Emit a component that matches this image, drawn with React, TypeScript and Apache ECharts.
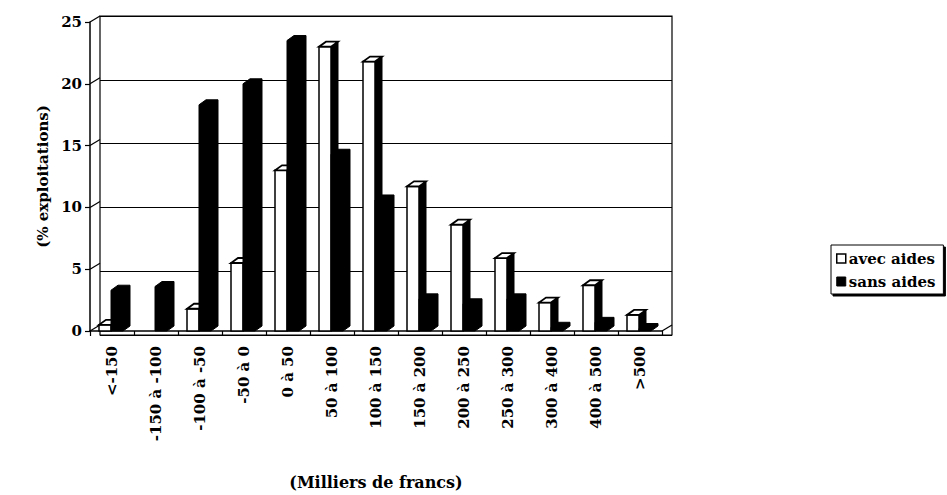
import React, { useEffect, useRef } from "react";
import * as echarts from "echarts";

const categories = [
  "<-150", "-150 à -100", "-100 à -50", "-50 à 0", "0 à 50", "50 à 100",
  "100 à 150", "150 à 200", "200 à 250", "250 à 300", "300 à 400", "400 à 500", ">500",
];
const avecAides = [0.5, 0, 1.8, 5.5, 13, 23, 21.8, 11.7, 8.6, 5.9, 2.3, 3.7, 1.3];
const sansAides = [3.3, 3.6, 18.3, 20, 23.5, 14.3, 10.6, 2.6, 2.2, 2.6, 0.3, 0.7, 0.2];
const yTicks = [0, 5, 10, 15, 20, 25];
const seriesNames = ["avec aides", "sans aides"];

const FONT = "'DejaVu Serif', 'Liberation Serif', serif";
const BAR_W = 12;
const DX = 7;
const DY = -5;
const WALL_DX = 10;
const WALL_DY = -6;

function barRenderer(k: number) {
  return (params: any, api: any) => {
    const i = api.value(0);
    const v = api.value(1);
    if (!(v > 0)) return { type: "group", children: [] };
    const base = api.coord([i, 0]);
    const top = api.coord([i, v]);
    const band = api.size([1, 0])[0];
    const left = base[0] - band / 2;
    const x0 = left + 9 + k * BAR_W;
    const x1 = x0 + BAR_W;
    const yb = base[1];
    const yt = top[1];
    if (k === 1) {
      return {
        type: "polygon",
        shape: {
          points: [
            [x0, yb], [x0, yt], [x0 + DX, yt + DY], [x1 + DX, yt + DY], [x1 + DX, yb + DY], [x1, yb],
          ],
        },
        style: { fill: "#000", stroke: "#000", lineWidth: 1 },
      };
    }
    return {
      type: "group",
      children: [
        {
          type: "polygon",
          shape: { points: [[x1, yb], [x1, yt], [x1 + DX, yt + DY], [x1 + DX, yb + DY]] },
          style: { fill: "#000", stroke: "#000", lineWidth: 1 },
        },
        {
          type: "rect",
          shape: { x: x0, y: yt, width: BAR_W, height: yb - yt },
          style: { fill: "#fff", stroke: "#000", lineWidth: 1.5 },
        },
        {
          type: "polygon",
          shape: { points: [[x0, yt], [x1, yt], [x1 + DX, yt + DY], [x0 + DX, yt + DY]] },
          style: { fill: "#fff", stroke: "#000", lineWidth: 1.8 },
        },
      ],
    };
  };
}

function wallRenderer(params: any, api: any) {
  const v = api.value(1);
  const p = api.coord([0, v]);
  const cs = params.coordSys;
  const x = cs.x;
  const children: any[] = [
    {
      type: "line",
      shape: { x1: x, y1: p[1], x2: x + WALL_DX, y2: p[1] + WALL_DY },
      style: { stroke: "#000", lineWidth: 1.2 },
    },
  ];
  if (v === 0) {
    children.push({
      type: "line",
      shape: { x1: x + cs.width, y1: p[1], x2: x + cs.width + WALL_DX, y2: p[1] + WALL_DY },
      style: { stroke: "#000", lineWidth: 1.2 },
    });
  }
  return { type: "group", children };
}

export default function App() {
  const ref = useRef<HTMLDivElement>(null);
  useEffect(() => {
    if (!ref.current) return;
    const chart = echarts.init(ref.current, null, { renderer: "svg" });
    chart.setOption({
      animation: false,
      backgroundColor: "#fff",
      grid: [
        { left: 90, top: 22, width: 572, height: 319 },
        {
          left: 100, top: 16, width: 572, height: 319,
          show: true, borderColor: "#000", borderWidth: 1.2, backgroundColor: "transparent",
        },
      ],
      xAxis: [
        {
          type: "category",
          gridIndex: 0,
          data: categories,
          boundaryGap: true,
          axisLine: { show: true, lineStyle: { color: "#000", width: 1.5 } },
          axisTick: { show: true, length: 5, lineStyle: { color: "#000", width: 1.2 } },
          axisLabel: {
            rotate: 90,
            interval: 0,
            margin: 15,
            color: "#000",
            fontFamily: FONT,
            fontWeight: "bold",
            fontSize: 15,
          },
          name: "(Milliers de francs)",
          nameLocation: "middle",
          nameGap: 143,
          nameTextStyle: { color: "#000", fontFamily: FONT, fontWeight: "bold", fontSize: 16 },
        },
        { type: "category", gridIndex: 1, data: categories, show: false },
      ],
      yAxis: [
        {
          type: "value",
          gridIndex: 0,
          min: 0,
          max: 25,
          interval: 5,
          axisLine: { show: true, lineStyle: { color: "#000", width: 1.5 } },
          axisTick: { show: true, length: 5, lineStyle: { color: "#000", width: 1.2 } },
          axisLabel: { color: "#000", fontFamily: FONT, fontWeight: "bold", fontSize: 15, margin: 8 },
          splitLine: { show: false },
          name: "(% exploitations)",
          nameLocation: "middle",
          nameRotate: 90,
          nameGap: 37,
          nameTextStyle: { color: "#000", fontFamily: FONT, fontWeight: "bold", fontSize: 15 },
        },
        {
          type: "value",
          gridIndex: 1,
          min: 0,
          max: 25,
          interval: 5,
          axisLine: { show: false },
          axisTick: { show: false },
          axisLabel: { show: false },
          splitLine: { show: true, lineStyle: { color: "#000", width: 1.2 } },
        },
      ],
      legend: {
        orient: "vertical",
        left: 831,
        top: 245,
        icon: "rect",
        itemWidth: 9,
        itemHeight: 9,
        itemGap: 8,
        padding: [6, 8, 5, 5],
        borderColor: "#000",
        borderWidth: 1,
        backgroundColor: "#fff",
        shadowColor: "#000",
        shadowOffsetX: 2,
        shadowOffsetY: 2,
        shadowBlur: 0,
        textStyle: { color: "#000", fontFamily: FONT, fontWeight: "bold", fontSize: 15, padding: [0, 0, 0, -2] },
        data: [
          { name: seriesNames[0], itemStyle: { color: "#fff", borderColor: "#000", borderWidth: 1.5 } },
          { name: seriesNames[1], itemStyle: { color: "#000", borderColor: "#000", borderWidth: 1 } },
        ],
      },
      series: [
        {
          type: "custom",
          name: "walls",
          xAxisIndex: 0,
          yAxisIndex: 0,
          silent: true,
          z: 1,
          data: yTicks.map((v) => [0, v]),
          encode: { x: 0, y: 1 },
          renderItem: wallRenderer,
        },
        {
          type: "custom",
          name: seriesNames[0],
          xAxisIndex: 0,
          yAxisIndex: 0,
          z: 3,
          itemStyle: { color: "#fff", borderColor: "#000" },
          data: avecAides.map((v, i) => [i, v]),
          encode: { x: 0, y: 1 },
          renderItem: barRenderer(0),
        },
        {
          type: "custom",
          name: seriesNames[1],
          xAxisIndex: 0,
          yAxisIndex: 0,
          z: 4,
          itemStyle: { color: "#000" },
          data: sansAides.map((v, i) => [i, v]),
          encode: { x: 0, y: 1 },
          renderItem: barRenderer(1),
        },
      ],
    });
    return () => chart.dispose();
  }, []);
  return (
    <div
      ref={ref}
      style={{ position: "fixed", left: 0, top: 0, width: 947, height: 495 }}
    />
  );
}
